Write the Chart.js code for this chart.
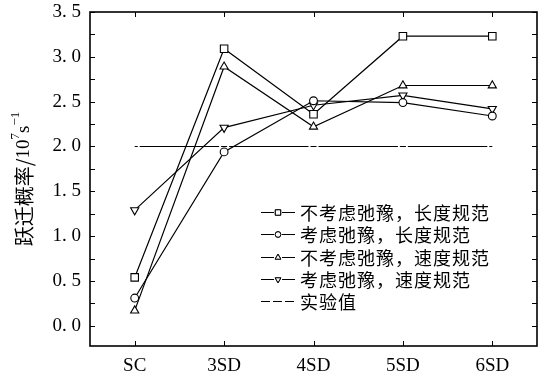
<!DOCTYPE html>
<html>
<head>
<meta charset="utf-8">
<script src="https://cdn.jsdelivr.net/npm/chart.js@4.4.1/dist/chart.umd.min.js"></script>
<style>
  html, body { margin: 0; padding: 0; background: #ffffff; }
  #wrap { width: 547px; height: 376px; }
</style>
</head>
<body>
<div id="wrap"><canvas id="chart" width="547" height="376"></canvas></div>
<script>
// 跃迁概率 chart

const categories = ['SC', '3SD', '4SD', '5SD', '6SD'];
const yTickValues = [0, 0.25, 0.5, 0.75, 1, 1.25, 1.5, 1.75, 2, 2.25, 2.5, 2.75, 3, 3.25, 3.5];

const seriesNames = [
    '不考虑弛豫，长度规范',
    '考虑弛豫，长度规范',
    '不考虑弛豫，速度规范',
    '考虑弛豫，速度规范',
    '实验值'
];
const noRelaxLength = [0.54, 3.09, 2.36, 3.23, 3.23];
const relaxLength = [0.31, 1.94, 2.51, 2.49, 2.34];
const noRelaxVelocity = [0.17, 2.89, 2.22, 2.68, 2.68];
const relaxVelocity = [1.29, 2.21, 2.46, 2.57, 2.42];
const experiment = [2.0, 2.0, 2.0, 2.0, 2.0];

const serifFont = "'Liberation Serif', 'DejaVu Serif', serif";
const cjkFont = "'Noto Sans CJK SC', sans-serif";

function lineSet(label, data, style, radius, rotation) {
    return {
        label: label,
        data: data,
        borderColor: '#000',
        borderWidth: 1.2,
        backgroundColor: '#fff',
        pointBackgroundColor: '#fff',
        pointBorderColor: '#000',
        pointBorderWidth: 1.1,
        pointStyle: style,
        pointRadius: radius,
        pointRotation: rotation || 0,
        tension: 0,
        fill: false
    };
}

const datasets = [
    lineSet(seriesNames[0], noRelaxLength, 'rect', 5.3),
    lineSet(seriesNames[1], relaxLength, 'circle', 3.9),
    lineSet(seriesNames[2], noRelaxVelocity, 'triangle', 4.7),
    lineSet(seriesNames[3], relaxVelocity, 'triangle', 4.7, 180),
    {
        label: seriesNames[4],
        data: experiment,
        borderColor: '#000',
        borderWidth: 1.2,
        borderDash: [3, 2, 79.4, 2, 3, 0],
        pointRadius: 0,
        fill: false
    }
];

// frame, inward ticks, legend and y title
const decorPlugin = {
    id: 'decor',
    afterDraw(chart) {
        const {ctx, chartArea: a, scales} = chart;
        const x = scales.x, y = scales.y;
        ctx.save();
        ctx.strokeStyle = '#000';
        ctx.lineWidth = 1;
        // ticks
        ctx.beginPath();
        categories.forEach((c, i) => {
            const px = Math.round(x.getPixelForValue(i)) + 0.5;
            ctx.moveTo(px, a.bottom); ctx.lineTo(px, a.bottom - 5);
            ctx.moveTo(px, a.top); ctx.lineTo(px, a.top + 5);
        });
        yTickValues.forEach(v => {
            const py = Math.round(y.getPixelForValue(v)) + 0.5;
            ctx.moveTo(a.left, py); ctx.lineTo(a.left + 5, py);
            ctx.moveTo(a.right, py); ctx.lineTo(a.right - 5, py);
        });
        ctx.stroke();
        // frame
        ctx.lineWidth = 1.6;
        ctx.strokeRect(a.left, a.top, a.right - a.left, a.bottom - a.top);

        // legend
        const lx0 = 261, lx1 = 295, tx = 300, ly0 = 212, ldy = 22.3;
        ctx.font = '18px ' + cjkFont;
        ctx.letterSpacing = '1px';
        ctx.fillStyle = '#000';
        ctx.textBaseline = 'middle';
        ctx.textAlign = 'left';
        chart.data.datasets.forEach((ds, i) => {
            const ly = Math.round(ly0 + i * ldy) + 0.5;
            ctx.lineWidth = 1.2;
            ctx.beginPath();
            if (i === 4) {
                ctx.setLineDash([9, 3]);
            }
            ctx.moveTo(lx0, ly); ctx.lineTo(lx1, ly);
            ctx.stroke();
            ctx.setLineDash([]);
            if (i < 4) {
                const cx = (lx0 + lx1) / 2;
                ctx.fillStyle = '#fff';
                ctx.fillRect(cx - 4, ly - 4, 8, 8);
                ctx.lineWidth = 1;
                Chart.helpers.drawPoint(ctx, {
                    pointStyle: ds.pointStyle,
                    radius: ds.pointStyle === 'rect' ? 3.8 : (ds.pointStyle === 'circle' ? 2.8 : 3.3),
                    rotation: ds.pointRotation,
                    borderWidth: 1
                }, cx, ly);
                ctx.fill();
                ctx.stroke();
            }
            ctx.fillStyle = '#000';
            ctx.fillText(ds.label, tx, ly + 1);
        });
        ctx.letterSpacing = '0px';

        // y axis title
        ctx.translate(24, (a.top + a.bottom) / 2);
        ctx.rotate(-Math.PI / 2);
        const parts = [
            {t: '跃迁概率/', f: '20px ' + cjkFont, dy: 0},
            {t: '10', f: '19px ' + serifFont, dy: 0},
            {t: '7', f: '13px ' + serifFont, dy: -8},
            {t: 's', f: '19px ' + serifFont, dy: 0},
            {t: '−1', f: '13px ' + serifFont, dy: -8}
        ];
        let total = 0;
        parts.forEach(p => { ctx.font = p.f; p.w = ctx.measureText(p.t).width; total += p.w; });
        let cx = -total / 2;
        ctx.textBaseline = 'middle';
        parts.forEach(p => {
            ctx.font = p.f;
            ctx.fillText(p.t, cx, p.dy);
            cx += p.w;
        });
        ctx.restore();
    }
};

new Chart(document.getElementById('chart'), {
    type: 'line',
    data: { labels: categories, datasets: datasets },
    plugins: [decorPlugin],
    options: {
        responsive: false,
        animation: false,
        events: [],
        layout: { padding: { top: 12, right: 10, left: 0, bottom: 0 } },
        plugins: {
            legend: { display: false },
            tooltip: { enabled: false }
        },
        scales: {
            x: {
                type: 'category',
                offset: true,
                grid: { display: false, drawTicks: false },
                border: { display: false },
                ticks: {
                    color: '#000',
                    padding: 9,
                    maxRotation: 0,
                    font: { family: serifFont, size: 19 }
                },
                afterFit(scale) {
                    scale.height = 30;
                    scale.paddingLeft = 0;
                    scale.paddingRight = 0;
                }
            },
            y: {
                min: -0.225,
                max: 3.5,
                grid: { display: false, drawTicks: false },
                border: { display: false },
                afterBuildTicks(scale) {
                    scale.ticks = yTickValues.map(v => ({ value: v }));
                },
                ticks: {
                    color: '#000',
                    padding: 9,
                    font: { family: serifFont, size: 19 },
                    callback(v) {
                        if (Math.abs(v * 2 - Math.round(v * 2)) > 1e-6) return '';
                        return v.toFixed(1).replace('.', '. ');
                    }
                },
                afterFit(scale) {
                    scale.width = 90;
                    scale.paddingTop = 0;
                    scale.paddingBottom = 0;
                }
            }
        }
    }
});
</script>
</body>
</html>
